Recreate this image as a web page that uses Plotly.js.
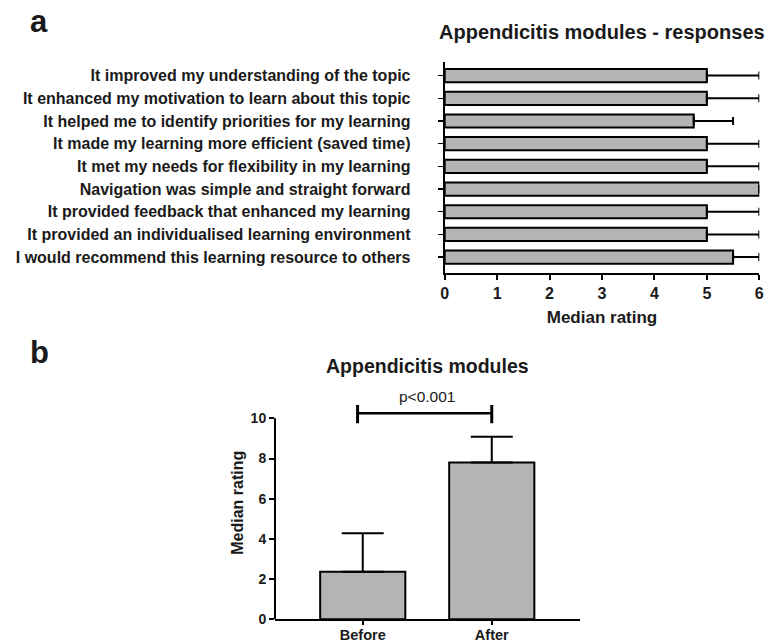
<!DOCTYPE html>
<html>
<head>
<meta charset="utf-8">
<script src="https://cdn.plot.ly/plotly-3.0.1.min.js"></script>
<style>html,body{margin:0;padding:0;background:#fff}#chart{width:771px;height:644px}</style>
</head>
<body>
<div id="chart"></div>
<script>
// Panel a data
const statements = [
  "It improved my understanding of the topic",
  "It enhanced my motivation to learn about this topic",
  "It helped me to identify priorities for my learning",
  "It made my learning more efficient (saved time)",
  "It met my needs for flexibility in my learning",
  "Navigation was simple and straight forward",
  "It provided feedback that enhanced my learning",
  "It provided an individualised learning environment",
  "I would recommend this learning resource to others"
];
const medianA = [5, 5, 4.75, 5, 5, 6, 5, 5, 5.5];
const upperA  = [6, 6, 5.5, 6, 6, 6, 6, 6, 6];

// Panel b data
const periods = ["Before", "After"];
const medianB = [2.37, 7.8];
const upperB  = [4.28, 9.08];
const pText = "p<0.001";

const FONT = "Liberation Sans, Arial, sans-serif";
const INK = "#1a1a1a";
const GRAY = "#b4b4b4";

const traceA = {
  type: "bar", orientation: "h",
  x: medianA, y: statements,
  xaxis: "x", yaxis: "y",
  width: 0.58,
  marker: {color: GRAY, line: {color: "#000", width: 2}},
  error_x: {type: "data", symmetric: false,
    array: medianA.map((v, i) => upperA[i] - v),
    arrayminus: medianA.map(() => 0),
    color: "#000", thickness: 2, width: 4},
  hoverinfo: "none"
};
const traceB = {
  type: "bar",
  x: periods, y: medianB,
  xaxis: "x2", yaxis: "y2",
  width: 0.66,
  marker: {color: GRAY, line: {color: "#000", width: 2}},
  error_y: {type: "data", symmetric: false,
    array: medianB.map((v, i) => upperB[i] - v),
    arrayminus: medianB.map(() => 0),
    color: "#000", thickness: 2, width: 21},
  hoverinfo: "none"
};

const layout = {
  width: 771, height: 644,
  margin: {l: 0, r: 0, t: 0, b: 0},
  paper_bgcolor: "#fff", plot_bgcolor: "#fff",
  showlegend: false,
  font: {family: FONT, color: INK},
  xaxis: {
    domain: [444.7/771, 759.3/771], anchor: "y",
    range: [0, 6], tickvals: [0,1,2,3,4,5,6],
    showgrid: false, zeroline: false,
    showline: true, linecolor: "#000", linewidth: 2,
    ticks: "outside", ticklen: 5, tickwidth: 2, tickcolor: "#000",
    tickfont: {family: FONT, size: 16, weight: "bold", color: INK},
    title: {text: "Median rating", font: {family: FONT, size: 17, weight: "bold", color: INK}, standoff: 10}
  },
  yaxis: {
    domain: [1 - 273/644, 1 - 62/644], anchor: "x",
    type: "category", range: [8.7, -0.6],
    showgrid: false, zeroline: false,
    showline: true, linecolor: "#000", linewidth: 2,
    ticks: "outside", ticklen: 5, tickwidth: 1.5, tickcolor: "#000",
    ticklabelstandoff: 24,
    tickfont: {family: FONT, size: 16, weight: "bold", color: INK}
  },
  xaxis2: {
    domain: [275/771, 579.5/771], anchor: "y2",
    range: [-0.68, 1.68], type: "category",
    showgrid: false, zeroline: false,
    showline: true, linecolor: "#000", linewidth: 2,
    ticks: "outside", ticklen: 4, tickwidth: 2, tickcolor: "#000",
    ticklabelstandoff: -3,
    tickfont: {family: FONT, size: 14.5, weight: "bold", color: INK}
  },
  yaxis2: {
    domain: [1 - 619.3/644, 1 - (619.3 - 11.6*20.1)/644], anchor: "x2",
    range: [0, 11.6], tickvals: [0,2,4,6,8,10],
    showgrid: false, zeroline: false, showline: false,
    ticks: "outside", ticklen: 5, tickwidth: 2, tickcolor: "#000",
    tickfont: {family: FONT, size: 14, weight: "bold", color: INK},
    title: {text: "Median rating", font: {family: FONT, size: 16, weight: "bold", color: INK}, standoff: 3}
  },
  shapes: [
    // y axis line of panel b, only up to 10
    {type: "line", xref: "x2 domain", yref: "y2", x0: 0, x1: 0, y0: 0, y1: 10, line: {color: "#000", width: 2}},
    // significance bracket
    {type: "line", xref: "x2", yref: "y2", x0: periods[0], x1: periods[1], x0shift: -0.04, y0: 10.25, y1: 10.25, line: {color: "#000", width: 2.5}},
    {type: "line", xref: "x2", yref: "y2", x0: periods[0], x1: periods[0], x0shift: -0.04, x1shift: -0.04, y0: 9.75, y1: 10.66, line: {color: "#000", width: 3}},
    {type: "line", xref: "x2", yref: "y2", x0: periods[1], x1: periods[1], y0: 9.75, y1: 10.66, line: {color: "#000", width: 3}}
  ],
  annotations: [
    {text: "a", xref: "paper", yref: "paper", x: 28/771, y: 1 - 21/644, xanchor: "left", yanchor: "middle", showarrow: false, font: {family: FONT, size: 31, weight: "bold", color: INK}},
    {text: "b", xref: "paper", yref: "paper", x: 28/771, y: 1 - 352/644, xanchor: "left", yanchor: "middle", showarrow: false, font: {family: FONT, size: 31, weight: "bold", color: INK}},
    {text: "Appendicitis modules - responses", xref: "x domain", yref: "paper", x: 0.5, y: 1 - 32/644, xanchor: "center", yanchor: "middle", showarrow: false, font: {family: FONT, size: 20, weight: "bold", color: INK}},
    {text: "Appendicitis modules", xref: "x2 domain", yref: "paper", x: 0.5, y: 1 - 366/644, xanchor: "center", yanchor: "middle", showarrow: false, font: {family: FONT, size: 19.5, weight: "bold", color: INK}},
    {text: pText, xref: "x2", yref: "y2", x: 0.5, y: 11.1, xanchor: "center", yanchor: "middle", showarrow: false, font: {family: FONT, size: 15.5, color: INK}}
  ]
};

Plotly.newPlot("chart", [traceA, traceB], layout, {displayModeBar: false, staticPlot: true});
</script>
</body>
</html>
